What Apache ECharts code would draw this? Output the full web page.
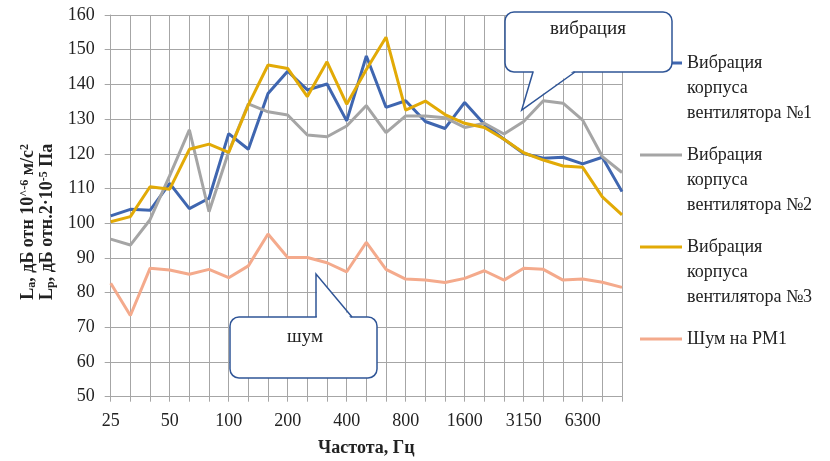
<!DOCTYPE html>
<html>
<head>
<meta charset="utf-8">
<script src="https://cdn.jsdelivr.net/npm/echarts@6/dist/echarts.min.js"></script>
<style>
html,body{margin:0;padding:0;background:#fff;}
#chart{width:830px;height:461px;}
</style>
</head>
<body>
<div id="chart"></div>
<script>
var categories = ['25','31.5','40','50','63','80','100','125','160','200','250','315','400','500','630','800','1000','1250','1600','2000','2500','3150','4000','5000','6300','8000','10000'];
var seriesNames = ['Вибрация корпуса вентилятора №1','Вибрация корпуса вентилятора №2','Вибрация корпуса вентилятора №3','Шум на РМ1'];
var vib1 = [102.1, 104.0, 103.7, 111.5, 104.2, 107.2, 125.8, 121.3, 137.4, 143.8, 138.4, 140.1, 129.5, 148.2, 133.4, 135.3, 129.3, 127.3, 134.8, 128.5, 124.2, 120.1, 118.7, 119.0, 117.1, 119.0, 109.1];
var vib2 = [95.4, 93.7, 101.0, 113.7, 126.9, 103.3, 120.6, 134.4, 132.1, 131.2, 125.4, 124.9, 128.0, 133.9, 126.1, 130.9, 130.9, 130.4, 127.6, 128.8, 125.7, 129.3, 135.3, 134.6, 129.7, 119.2, 114.6];
var vib3 = [100.4, 101.9, 110.5, 109.8, 121.3, 122.8, 120.4, 134.1, 145.6, 144.6, 136.5, 146.5, 134.3, 144.3, 153.6, 132.6, 135.2, 131.3, 128.8, 127.6, 124.2, 120.3, 118.2, 116.5, 116.1, 107.6, 102.4];
var noise = [82.7, 73.4, 87.0, 86.5, 85.3, 86.7, 84.3, 87.7, 96.9, 90.1, 90.1, 88.6, 86.0, 94.5, 86.7, 83.9, 83.6, 82.9, 84.1, 86.3, 83.6, 87.0, 86.7, 83.6, 83.9, 83.0, 81.5];
var colors = ['#3F66B0', '#A5A5A5', '#E2AA06', '#F4AA8C'];
var legendLines = {
  'Вибрация корпуса вентилятора №1': '\n\nВибрация\nкорпуса\nвентилятора №1',
  'Вибрация корпуса вентилятора №2': '\n\nВибрация\nкорпуса\nвентилятора №2',
  'Вибрация корпуса вентилятора №3': '\n\nВибрация\nкорпуса\nвентилятора №3',
  'Шум на РМ1': '\n\nШум на РМ1\n\n'
};
var calloutVib = 'вибрация';
var calloutNoise = 'шум';

var serif = 'Liberation Serif';
var gridColor = '#A6A6A6';
var textColor = '#222222';
var blueBorder = '#2F5597';

var chart = echarts.init(document.getElementById('chart'));
var dataSets = [vib1, vib2, vib3, noise];
var series = dataSets.map(function (d, i) {
  return {
    name: seriesNames[i],
    type: 'line',
    data: d,
    symbol: 'none',
    showSymbol: false,
    smooth: false,
    lineStyle: { width: 3, color: colors[i] },
    itemStyle: { color: colors[i] }
  };
});

chart.setOption({
  animation: false,
  backgroundColor: '#ffffff',
  color: colors,
  textStyle: { fontFamily: serif, color: textColor },
  grid: { left: 110.7, right: 208, top: 15, bottom: 64.3, containLabel: false, outerBoundsMode: 'none' },
  legend: {
    orient: 'vertical',
    left: 640,
    top: 0.5,
    padding: 0,
    itemGap: -33,
    itemWidth: 42,
    itemHeight: 3,
    icon: 'rect',
    data: seriesNames,
    formatter: function (name) { return legendLines[name]; },
    textStyle: { fontFamily: serif, fontSize: 18, lineHeight: 25, color: textColor }
  },
  xAxis: {
    type: 'category',
    data: categories,
    boundaryGap: false,
    name: 'Частота, Гц',
    nameLocation: 'middle',
    nameGap: 43,
    nameTextStyle: { fontFamily: serif, fontSize: 18, fontWeight: 'bold', color: textColor },
    axisLine: { show: true, lineStyle: { color: gridColor, width: 1 } },
    axisTick: { show: true, interval: 0, length: 5, lineStyle: { color: gridColor } },
    axisLabel: { interval: 2, margin: 16, fontFamily: serif, fontSize: 18, color: textColor },
    splitLine: { show: true, interval: 0, lineStyle: { color: gridColor, width: 1 } }
  },
  yAxis: {
    type: 'value',
    min: 50,
    max: 160,
    interval: 10,
    name: '{b|L}{sub|a}{b|, дБ отн 10}{sup|^-6}{b| м/с}{sup|2}\n{b|L}{sub|p}{b|, дБ отн.2·10}{sup|-5}{b| Па}',
    nameLocation: 'middle',
    nameRotate: 90,
    nameGap: 50,
    nameTextStyle: {
      padding: [0, 32, 0, 0],
      rich: {
        b: { fontFamily: serif, fontSize: 18, fontWeight: 'bold', color: textColor, lineHeight: 19 },
        sub: { fontFamily: serif, fontSize: 12, fontWeight: 'bold', color: textColor, lineHeight: 8, verticalAlign: 'bottom' },
        sup: { fontFamily: serif, fontSize: 12, fontWeight: 'bold', color: textColor, lineHeight: 8, verticalAlign: 'top' }
      }
    },
    axisLine: { show: true, lineStyle: { color: gridColor, width: 1 } },
    axisTick: { show: true, length: 6, lineStyle: { color: gridColor } },
    axisLabel: { margin: 16, fontFamily: serif, fontSize: 18, color: textColor },
    splitLine: { show: true, lineStyle: { color: gridColor, width: 1 } }
  },
  series: series,
  graphic: [
    { type: 'rect', z: 100, shape: { x: 505, y: 12, width: 167, height: 60, r: 9 },
      style: { fill: '#ffffff', stroke: blueBorder, lineWidth: 1.5 } },
    { type: 'polygon', z: 101, shape: { points: [[534, 70.6], [574, 70.6], [521.7, 110]] },
      style: { fill: '#ffffff', stroke: null } },
    { type: 'polyline', z: 102, shape: { points: [[533, 72], [521.7, 110], [575, 72]] },
      style: { fill: null, stroke: blueBorder, lineWidth: 1.5 } },
    { type: 'text', z: 103, x: 588, y: 29,
      style: { text: calloutVib, fontFamily: serif, fontSize: 19, fill: textColor, align: 'center', verticalAlign: 'middle' } },

    { type: 'rect', z: 100, shape: { x: 230, y: 317, width: 147, height: 61, r: 9 },
      style: { fill: '#ffffff', stroke: blueBorder, lineWidth: 1.5 } },
    { type: 'polygon', z: 101, shape: { points: [[316.8, 318.4], [351, 318.4], [316.8, 274]] },
      style: { fill: '#ffffff', stroke: null } },
    { type: 'polyline', z: 102, shape: { points: [[316, 317], [316, 274], [352, 317]] },
      style: { fill: null, stroke: blueBorder, lineWidth: 1.5 } },
    { type: 'text', z: 103, x: 305, y: 337,
      style: { text: calloutNoise, fontFamily: serif, fontSize: 19, fill: textColor, align: 'center', verticalAlign: 'middle' } }
  ]
});
</script>
</body>
</html>
